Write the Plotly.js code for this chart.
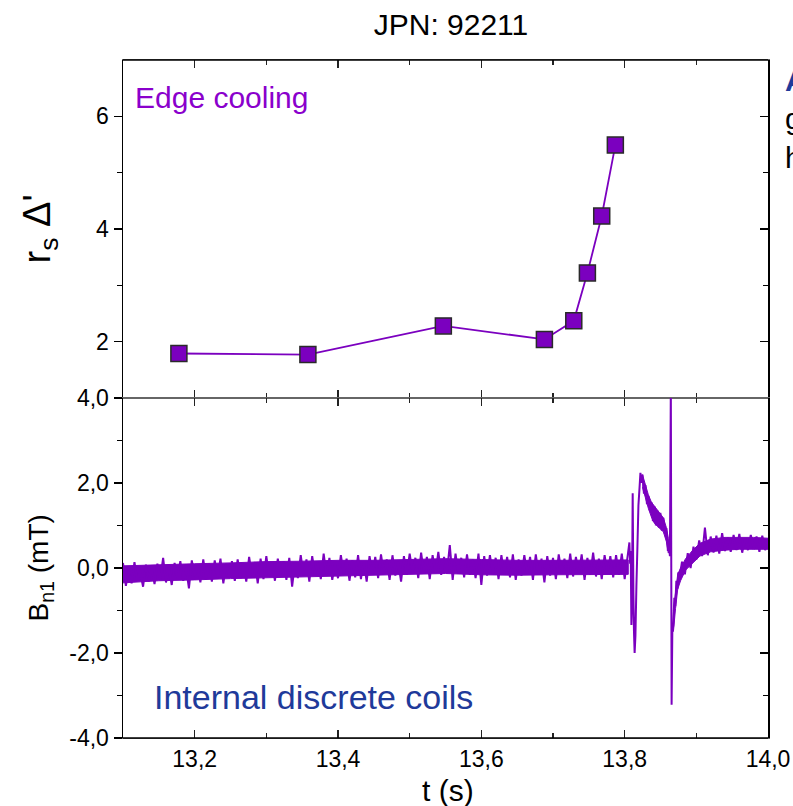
<!DOCTYPE html>
<html>
<head>
<meta charset="utf-8">
<script src="https://cdn.plot.ly/plotly-3.0.1.min.js"></script>
<style>html,body{margin:0;padding:0;background:#fff;}#chart{width:793px;height:806px;}</style>
</head>
<body>
<div id="chart"></div>
<script>
// ---- Top panel: r_s Delta' (Edge cooling) ----
const deltaT = [13.178, 13.358, 13.547, 13.688, 13.729, 13.748, 13.768, 13.787];
const deltaV = [1.79, 1.77, 2.28, 2.04, 2.37, 3.22, 4.23, 5.49];

// ---- Bottom panel: B_n1 (mT), internal discrete coils ----
// baseline samples, start 13.100 s, every 0.004 s
const baseStart = 13.100;
const baseStep = 0.004;
const baseV = [
  0.12,-0.42,-0.05,-0.36,0.14,-0.30,-0.10,-0.44,0.08,-0.32,
  -0.02,-0.38,0.10,-0.26,0.24,-0.34,0.02,-0.40,0.12,-0.24,
  0.16,-0.30,0.00,-0.48,0.18,-0.20,0.06,-0.34,0.20,-0.26,
  0.10,-0.32,0.18,-0.22,0.22,-0.36,0.10,-0.16,0.16,-0.30,
  0.20,-0.24,0.08,-0.32,0.26,-0.18,0.14,-0.36,0.22,-0.26,
  0.28,-0.20,0.12,-0.30,0.22,-0.14,0.16,-0.28,0.24,-0.44,
  0.14,-0.24,0.30,-0.18,0.20,-0.32,0.28,-0.16,0.12,-0.26,
  0.34,-0.18,0.24,-0.28,0.12,-0.24,0.30,-0.14,0.22,-0.30,
  0.18,-0.22,0.30,-0.26,0.16,-0.32,0.28,-0.12,0.26,-0.24,
  0.32,-0.14,0.20,-0.28,0.30,-0.18,0.14,-0.32,0.28,-0.16,
  0.34,-0.10,0.24,-0.24,0.36,-0.14,0.26,-0.26,0.30,-0.12,
  0.38,-0.16,0.26,-0.10,0.54,-0.28,0.34,-0.14,0.24,-0.22,
  0.32,-0.16,0.20,-0.24,0.34,-0.40,0.28,-0.18,0.30,-0.14,
  0.24,-0.26,0.30,-0.16,0.26,-0.22,0.32,-0.28,0.20,-0.18,
  0.30,-0.14,0.26,-0.28,0.32,-0.16,0.22,-0.34,0.28,-0.18,
  0.24,-0.26,0.32,-0.12,0.22,-0.24,0.34,-0.20,0.26,-0.14,
  0.32,-0.28,0.24,-0.16,0.36,-0.20,0.22,-0.26,0.30,-0.12,
  0.28,-0.22,0.30,-0.16,0.34,-0.26,0.26
];
// solid core of the noisy baseline band (upper / lower edge)
const coreT  = [13.10, 13.15, 13.20, 13.25, 13.30, 13.35, 13.40, 13.45, 13.50, 13.55, 13.60, 13.65, 13.70, 13.75, 13.80, 13.805];
const coreHi = [0.05, 0.08, 0.10, 0.12, 0.15, 0.16, 0.18, 0.18, 0.20, 0.22, 0.20, 0.18, 0.18, 0.19, 0.19, 0.19];
const coreLo = [-0.35, -0.30, -0.28, -0.25, -0.22, -0.20, -0.18, -0.17, -0.15, -0.13, -0.16, -0.17, -0.16, -0.16, -0.15, -0.15];

// disruption event, irregular samples
const eventT = [
  13.8066,13.8076,13.8084,13.8094,13.8101,13.8112,13.8122,13.8130,13.8139,13.8150,
  13.8164,13.8178,13.8192,13.8206,13.8220,13.8234,13.8248,13.8269,13.8290,13.8311,
  13.8331,13.8352,13.8373,13.8394,13.8415,13.8436,13.8457,13.8478,13.8498,13.8519,
  13.8540,13.8561,13.8582,13.8603,13.8617,13.8631,13.8637,13.8644,13.8655,13.8665,
  13.8679,13.8693,13.8707,13.8721,13.8735,13.8749
];
const eventV = [
  0.60,0.10,0.40,-1.34,-0.90,1.76,-0.60,-1.50,-2.00,-1.60,
  -0.40,0.50,1.48,1.85,2.24,2.00,2.20,1.75,1.95,1.50,
  1.70,1.35,1.55,1.10,1.45,1.00,1.35,0.95,1.30,0.88,
  1.18,0.80,0.94,0.40,0.65,0.28,1.90,4.30,-3.22,-1.50,
  -1.35,-0.70,-0.90,-0.30,-0.50,-0.10
];
// solid core of the band while the signal decays after the first event
const decayCoreT  = [13.8248, 13.8290, 13.8331, 13.8373, 13.8415, 13.8457, 13.8498, 13.8540, 13.8582, 13.8610];
const decayCoreHi = [2.20, 1.95, 1.72, 1.55, 1.45, 1.35, 1.28, 1.18, 0.95, 0.70];
const decayCoreLo = [1.90, 1.65, 1.40, 1.20, 1.05, 1.00, 0.92, 0.85, 0.62, 0.35];

// recovery tail, start 13.876 s, every 0.004 s
const tailStart = 13.876;
const tailStep = 0.004;
const tailV = [
  -0.30,0.15,-0.15,0.35,0.00,0.50,0.20,0.65,0.28,0.95,
  0.30,0.74,0.36,0.76,0.34,0.82,0.40,0.72,0.38,0.78,
  0.42,0.80,0.36,0.70,0.42,0.78,0.44,0.74,0.38,0.76,
  0.42,0.60
];
// solid core of the recovery band
const tailCoreT  = [13.868, 13.871, 13.874, 13.878, 13.885, 13.895, 13.905, 13.92, 13.94, 13.96, 13.98, 14.00];
const tailCoreHi = [-1.00, -0.50, -0.15, 0.00, 0.22, 0.42, 0.58, 0.68, 0.72, 0.72, 0.72, 0.70];
const tailCoreLo = [-1.50, -0.95, -0.50, -0.30, -0.05, 0.12, 0.28, 0.38, 0.42, 0.44, 0.44, 0.44];

// tick labels
const xTicks = [13.2, 13.4, 13.6, 13.8, 14.0];
const xTickText = ["13,2", "13,4", "13,6", "13,8", "14,0"];
const yTopTicks = [2, 4, 6];
const yTopText = ["2", "4", "6"];
const yBotTicks = [-4, -2, 0, 2, 4];
const yBotText = ["-4,0", "-2,0", "0,0", "2,0", "4,0"];

// assemble signal
const bT = [], bV = [];
baseV.forEach((v, i) => { bT.push(+(baseStart + i * baseStep).toFixed(4)); bV.push(v); });
eventT.forEach((t, i) => { bT.push(t); bV.push(eventV[i]); });
tailV.forEach((v, i) => { bT.push(+(tailStart + i * tailStep).toFixed(4)); bV.push(v); });

function band(t, hi, lo) {
  return {
    x: t.concat(t.slice().reverse()),
    y: hi.concat(lo.slice().reverse())
  };
}
const cores = [
  band(coreT, coreHi, coreLo),
  band(decayCoreT, decayCoreHi, decayCoreLo),
  band(tailCoreT, tailCoreHi, tailCoreLo)
];

const PURPLE = '#7B00BF';
const FONT = 'Liberation Sans, Arial, sans-serif';

const traces = [
  {
    x: deltaT, y: deltaV, xaxis: 'x', yaxis: 'y', type: 'scatter', mode: 'lines+markers',
    line: {color: PURPLE, width: 1.8},
    marker: {symbol: 'square', size: 16, color: PURPLE, line: {color: '#2a2a2a', width: 1.5}},
    hoverinfo: 'skip', showlegend: false
  }
];
cores.forEach(c => traces.push({
  x: c.x, y: c.y, xaxis: 'x2', yaxis: 'y2', type: 'scatter', mode: 'lines',
  fill: 'toself', fillcolor: PURPLE, line: {color: PURPLE, width: 1},
  hoverinfo: 'skip', showlegend: false
}));
traces.push(
  {
    x: bT, y: bV, xaxis: 'x2', yaxis: 'y2', type: 'scatter', mode: 'lines',
    line: {color: PURPLE, width: 2.0, simplify: false},
    hoverinfo: 'skip', showlegend: false
  },
  {x: [], y: [], xaxis: 'x', yaxis: 'y3', type: 'scatter', showlegend: false},
  {x: [], y: [], xaxis: 'x2', yaxis: 'y4', type: 'scatter', showlegend: false}
);

const SPLIT = 0.5015;
const tickFont = {family: FONT, size: 23, color: '#000'};

const layout = {
  width: 793, height: 806,
  margin: {l: 123, r: 25, t: 60, b: 68, pad: 0},
  paper_bgcolor: '#fff', plot_bgcolor: '#fff',
  separators: ',.',
  showlegend: false,
  title: {
    text: 'JPN: 92211', font: {family: FONT, size: 30, color: '#000'},
    x: 0.5085, xref: 'paper', xanchor: 'center', y: 0.970, yref: 'container', yanchor: 'middle'
  },
  xaxis: {
    domain: [0, 1], anchor: 'y', range: [13.1, 14.0], showgrid: false, zeroline: false,
    showline: true, linecolor: '#666', linewidth: 1, mirror: 'ticks',
    ticks: 'inside', ticklen: 8, tickwidth: 1.3, tickcolor: '#222',
    tickvals: xTicks, showticklabels: false,
    minor: {tickvals: [13.3, 13.5, 13.7, 13.9], ticks: 'inside', ticklen: 5, tickwidth: 1.3, tickcolor: '#222'}
  },
  yaxis: {
    domain: [SPLIT, 1], anchor: 'x', range: [1, 7], showgrid: false, zeroline: false,
    showline: true, linecolor: '#000', linewidth: 1.5,
    ticks: 'outside', ticklen: 8, tickwidth: 1.3, tickcolor: '#000',
    tickvals: yTopTicks, ticktext: yTopText, tickfont: tickFont,
    minor: {tickvals: [3, 5], ticks: 'outside', ticklen: 5, tickwidth: 1.3, tickcolor: '#000'}
  },
  yaxis3: {
    overlaying: 'y', side: 'right', anchor: 'x', range: [1, 7], showgrid: false, zeroline: false,
    showline: true, linecolor: '#000', linewidth: 1.5,
    ticks: 'inside', ticklen: 8, tickwidth: 1.3, tickcolor: '#000',
    tickvals: yTopTicks, showticklabels: false,
    minor: {tickvals: [3, 5], ticks: 'inside', ticklen: 5, tickwidth: 1.3, tickcolor: '#000'}
  },
  xaxis2: {
    domain: [0, 1], anchor: 'y2', range: [13.1, 14.0], showgrid: false, zeroline: false,
    showline: true, linecolor: '#666', linewidth: 1, mirror: 'ticks',
    ticks: 'inside', ticklen: 8, tickwidth: 1.3, tickcolor: '#222',
    tickvals: xTicks, ticktext: xTickText, tickfont: tickFont,
    minor: {tickvals: [13.3, 13.5, 13.7, 13.9], ticks: 'inside', ticklen: 5, tickwidth: 1.3, tickcolor: '#222'}
  },
  yaxis2: {
    domain: [0, SPLIT], anchor: 'x2', range: [-4, 4], showgrid: false, zeroline: false,
    showline: true, linecolor: '#000', linewidth: 1.5,
    ticks: 'outside', ticklen: 8, tickwidth: 1.3, tickcolor: '#000',
    tickvals: yBotTicks, ticktext: yBotText, tickfont: tickFont,
    minor: {tickvals: [-3, -1, 1, 3], ticks: 'outside', ticklen: 5, tickwidth: 1.3, tickcolor: '#000'}
  },
  yaxis4: {
    overlaying: 'y2', side: 'right', anchor: 'x2', range: [-4, 4], showgrid: false, zeroline: false,
    showline: true, linecolor: '#000', linewidth: 1.5,
    ticks: 'inside', ticklen: 8, tickwidth: 1.3, tickcolor: '#000',
    tickvals: yBotTicks, showticklabels: false,
    minor: {tickvals: [-3, -1, 1, 3], ticks: 'inside', ticklen: 5, tickwidth: 1.3, tickcolor: '#000'}
  },
  shapes: [
    {type: 'line', xref: 'paper', yref: 'paper', x0: 0, x1: 1, y0: 1, y1: 1, line: {color: '#000', width: 1.5}},
    {type: 'line', xref: 'paper', yref: 'paper', x0: 0, x1: 1, y0: 0, y1: 0, line: {color: '#000', width: 1.5}}
  ],
  annotations: [
    {text: 'Edge cooling', xref: 'paper', yref: 'paper', x: 0.0155, y: 0.9440, xanchor: 'left', yanchor: 'middle',
     showarrow: false, font: {family: FONT, size: 30, color: '#8A00CC'}},
    {text: 'Internal discrete coils', xref: 'paper', yref: 'paper', x: 0.0450, y: 0.0605, xanchor: 'left', yanchor: 'middle',
     showarrow: false, font: {family: FONT, size: 34, color: '#1F3A9A'}},
    {text: "r<sub>s</sub> Δ'", xref: 'paper', yref: 'paper', x: -0.128, y: 0.7507, xanchor: 'center', yanchor: 'middle',
     textangle: -90, showarrow: false, font: {family: FONT, size: 38, color: '#000'}},
    {text: 'B<sub>n1</sub> (mT)', xref: 'paper', yref: 'paper', x: -0.128, y: 0.2507, xanchor: 'center', yanchor: 'middle',
     textangle: -90, showarrow: false, font: {family: FONT, size: 28, color: '#000'}},
    {text: 't (s)', xref: 'paper', yref: 'paper', x: 0.504, y: -0.0767, xanchor: 'center', yanchor: 'middle',
     showarrow: false, font: {family: FONT, size: 30, color: '#000'}},
    {text: '<b>A</b>', xref: 'paper', yref: 'paper', x: 1.0233, y: 0.9705, xanchor: 'left', yanchor: 'middle',
     showarrow: false, font: {family: FONT, size: 30, color: '#1F3A9A'}},
    {text: 'g', xref: 'paper', yref: 'paper', x: 1.0233, y: 0.9135, xanchor: 'left', yanchor: 'middle',
     showarrow: false, font: {family: FONT, size: 30, color: '#000'}},
    {text: 'h', xref: 'paper', yref: 'paper', x: 1.0233, y: 0.8555, xanchor: 'left', yanchor: 'middle',
     showarrow: false, font: {family: FONT, size: 30, color: '#000'}}
  ]
};

Plotly.newPlot('chart', traces, layout, {staticPlot: true, displayModeBar: false});
</script>
</body>
</html>
